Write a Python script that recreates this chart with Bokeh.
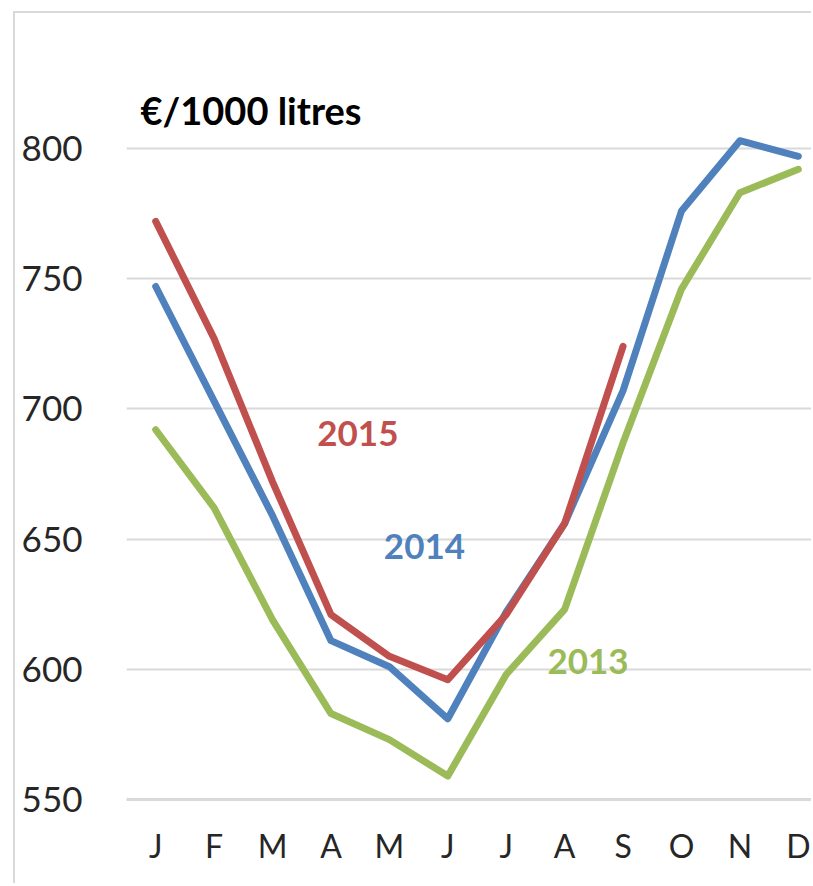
from bokeh.plotting import figure
from bokeh.models import FixedTicker, Label, Range1d
from bokeh.embed import file_html
from bokeh.resources import INLINE

months = ["J", "F", "M", "A", "M", "J", "J", "A", "S", "O", "N", "D"]
y2013 = [692, 662, 619, 583, 573, 559, 598, 623, 687, 746, 783, 792]
y2014 = [747, 703, 659, 611, 601, 581, 622, 656, 707, 776, 803, 797]
y2015 = [772, 727, 672, 621, 605, 596, 621, 656, 724]
y_ticks = [550, 600, 650, 700, 750, 800]
unit_label = "€/1000 litres"
series_names = ["2013", "2014", "2015"]
colors = ["#9BBB59", "#4F81BD", "#C0504D"]

x_all = list(range(len(months)))

p = figure(width=798, height=872, output_backend="svg", toolbar_location=None,
           x_range=Range1d(-0.5, 11.26), y_range=Range1d(550, 849.15),
           min_border_left=111, min_border_right=0, min_border_top=7,
           min_border_bottom=86)
p.styles = {"margin-left": "13px", "margin-top": "11px",
            "border-left": "2px solid #d9d9d9", "border-top": "2px solid #d9d9d9"}
p.outline_line_color = None
p.background_fill_color = "white"
p.border_fill_color = "white"

FONT = "Lato"

p.xaxis.ticker = FixedTicker(ticks=x_all)
p.xaxis.major_label_overrides = {i: m for i, m in enumerate(months)}
p.xaxis.axis_line_color = "#d9d9d9"
p.xaxis.axis_line_width = 3
p.xaxis.major_tick_line_color = None
p.xaxis.minor_tick_line_color = None
p.xaxis.major_label_standoff = 20
p.xaxis.major_label_text_font = FONT
p.xaxis.major_label_text_font_size = "32px"
p.xaxis.major_label_text_color = "#262626"

p.yaxis.ticker = FixedTicker(ticks=y_ticks)
p.yaxis.axis_line_color = None
p.yaxis.major_tick_line_color = None
p.yaxis.minor_tick_line_color = None
p.yaxis.major_label_standoff = 38
p.yaxis.major_label_text_font = FONT
p.yaxis.major_label_text_font_size = "35px"
p.yaxis.major_label_text_color = "#262626"

p.xgrid.grid_line_color = None
p.ygrid.ticker = FixedTicker(ticks=y_ticks)
p.ygrid.grid_line_color = "#d9d9d9"
p.ygrid.grid_line_width = 2

for ys, c in zip([y2013, y2014, y2015], colors):
    p.line(x_all[:len(ys)], ys, line_color=c, line_width=7,
           line_join="round", line_cap="round")

label_pos = [(7.40, 603.0), (4.60, 647.1), (3.46, 690.5)]
for name, c, (lx, ly) in zip(series_names, colors, label_pos):
    p.add_layout(Label(x=lx, y=ly, text=name, text_color=c, text_font=FONT,
                       text_font_style="bold", text_font_size="35px",
                       text_align="center", text_baseline="alphabetic"))

p.add_layout(Label(x=-0.26, y=814.6, text=unit_label, text_color="black",
                   text_font=FONT, text_font_style="bold",
                   text_font_size="38px", text_baseline="alphabetic"))

open("out.html", "w").write(file_html(p, INLINE))
